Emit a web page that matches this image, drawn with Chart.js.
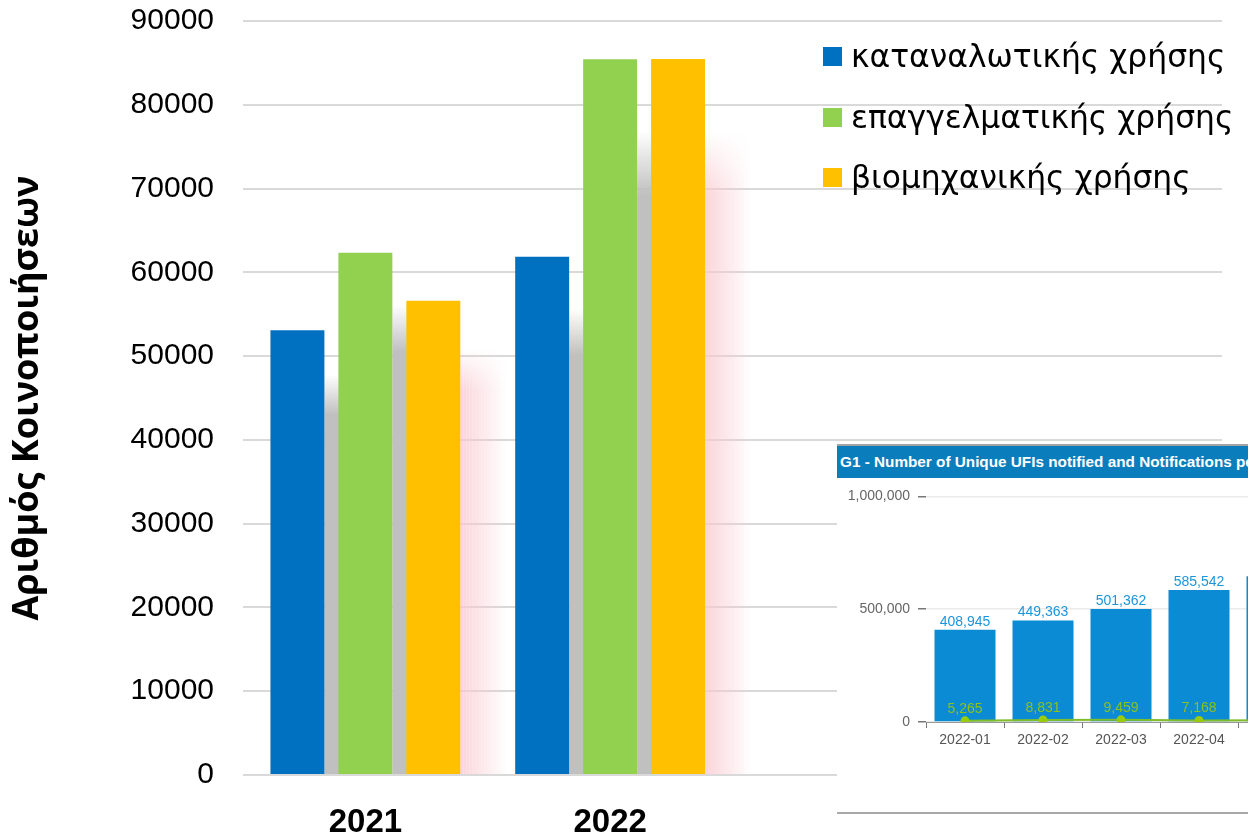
<!DOCTYPE html>
<html>
<head>
<meta charset="utf-8">
<script src="https://cdn.jsdelivr.net/npm/chart.js@4.4.1/dist/chart.umd.min.js"></script>
<style>
  html, body { margin: 0; padding: 0; background: #fff; }
  body { width: 1248px; height: 834px; overflow: hidden; position: relative; }
  #mainChart { position: absolute; left: 0; top: 0; }
  #legend { position: absolute; left: 0; top: 0; }
  .lg-box { position: absolute; left: 823px; width: 19px; height: 19px; }
  .lg-text { position: absolute; left: 851px; font-family: 'DejaVu Sans', sans-serif; font-size: 31.4px; line-height: 31px; color: #000; white-space: nowrap; }
  #inset { position: absolute; left: 837px; top: 444px; width: 411px; height: 372px; overflow: hidden; background: #fff; border-top: 2px solid #a3a3a3; box-sizing: border-box; }
  #insetHead { position: absolute; left: 0; top: 0; width: 600px; height: 32px; background: #0a7dbc; color: #fff; font-family: 'Liberation Sans', Arial, sans-serif; font-weight: bold; font-size: 15.3px; line-height: 32px; padding-left: 3px; white-space: nowrap; }
  #insetChart { position: absolute; left: 0; top: 34px; }
  #insetBottom { position: absolute; left: 0; top: 366px; width: 411px; height: 2px; background: #a8a8a8; }
</style>
</head>
<body>
<canvas id="mainChart" width="1248" height="834"></canvas>
<div id="legend"></div>
<div id="inset">
  <div id="insetHead"></div>
  <canvas id="insetChart" width="500" height="332"></canvas>
  <div id="insetBottom"></div>
</div>
<script>
const YEARS = ['2021', '2022', '', ''];
const CONSUMER = [53100, 61850, null, null];
const PROFESSIONAL = [62350, 85420, null, null];
const INDUSTRIAL = [56600, 85460, null, null];
const SERIES_LABELS = ['καταναλωτικής χρήσης', 'επαγγελματικής χρήσης', 'βιομηχανικής χρήσης'];
const SERIES_COLORS = ['#0070c0', '#92d050', '#ffc000'];
const Y_TITLE = 'Αριθμός Κοινοποιήσεων';

const INSET_TITLE = 'G1 - Number of Unique UFIs notified and Notifications per month';
const MONTHS = ['2022-01', '2022-02', '2022-03', '2022-04', '2022-05'];
const BAR_VALUES = [408945, 449363, 501362, 585542, 646000];
const LINE_VALUES = [5265, 8831, 9459, 7168, 8000];

// legend (html, transparent over the grid)
const legend = document.getElementById('legend');
SERIES_LABELS.forEach((label, i) => {
  const top = 47 + i * 60.5;
  const box = document.createElement('div');
  box.className = 'lg-box';
  box.style.top = top + 'px';
  box.style.background = SERIES_COLORS[i];
  const txt = document.createElement('div');
  txt.className = 'lg-text';
  txt.style.top = (top - 6) + 'px';
  txt.textContent = label;
  legend.appendChild(box);
  legend.appendChild(txt);
});
document.getElementById('insetHead').textContent = INSET_TITLE;

// soft shadows to the right of each bar
const barShadow = {
  id: 'barShadow',
  beforeDatasetsDraw(chart) {
    const ctx = chart.ctx;
    chart.data.datasets.forEach((ds, i) => {
      chart.getDatasetMeta(i).data.forEach((bar) => {
        const p = bar.getProps(['x', 'y', 'base', 'width'], true);
        if (!isFinite(p.y) || !isFinite(p.base)) return;
        const h = p.base - p.y;
        if (h <= 0) return;
        const right = p.x + p.width / 2;
        const t0 = p.y + 0.10 * h;
        const t1 = p.y + 0.19 * h;
        ctx.save();
        if (i < 2) {
          const g = ctx.createLinearGradient(0, t0, 0, t1);
          g.addColorStop(0, 'rgba(192,192,192,0)');
          g.addColorStop(1, 'rgba(192,192,192,1)');
          ctx.fillStyle = g;
          ctx.fillRect(right, t0, 15, p.base - t0);
        } else {
          const n = 15;
          for (let k = 0; k < n; k++) {
            const a = 0.75 * (1 - k / n);
            const g = ctx.createLinearGradient(0, t0, 0, t1);
            g.addColorStop(0, 'rgba(248,200,206,0)');
            g.addColorStop(1, 'rgba(248,200,206,' + a + ')');
            ctx.fillStyle = g;
            ctx.fillRect(right + k * 3, t0, 3, p.base - t0);
          }
        }
        ctx.restore();
      });
    });
  }
};

new Chart(document.getElementById('mainChart'), {
  type: 'bar',
  data: {
    labels: YEARS,
    datasets: [CONSUMER, PROFESSIONAL, INDUSTRIAL].map((d, i) => ({
      label: SERIES_LABELS[i],
      data: d,
      backgroundColor: SERIES_COLORS[i],
      borderWidth: 0,
      categoryPercentage: 0.833,
      barPercentage: 0.794,
    })),
  },
  options: {
    responsive: false,
    animation: false,
    layout: { padding: { top: 21, right: 26, left: 0, bottom: 0 } },
    plugins: { legend: { display: false }, tooltip: { enabled: false } },
    scales: {
      x: {
        grid: { display: false },
        border: { display: false },
        ticks: { color: '#000', padding: 20, font: { family: 'Liberation Sans', size: 33, weight: 'bold' } },
        afterFit: (s) => { s.height = 59; },
      },
      y: {
        min: 0,
        max: 90000,
        grid: { color: '#d9d9d9', lineWidth: 2, drawTicks: true, tickLength: 29, tickColor: 'rgba(0,0,0,0)' },
        border: { display: false },
        ticks: { stepSize: 10000, color: '#000', padding: 0, font: { family: 'Liberation Sans', size: 30 }, callback: (v) => String(v) },
        title: { display: true, text: Y_TITLE, color: '#000', padding: { top: 6, bottom: 0 }, font: { family: 'Open Sans', size: 36, weight: 'bold' } },
        afterFit: (s) => { s.width = 243; },
      },
    },
  },
  plugins: [barShadow],
});

// value labels for the inset chart
const valueLabels = {
  id: 'valueLabels',
  afterDatasetsDraw(chart) {
    const ctx = chart.ctx;
    ctx.save();
    ctx.font = '14px "Liberation Sans", Arial, sans-serif';
    ctx.textAlign = 'center';
    ctx.textBaseline = 'bottom';
    chart.data.datasets.forEach((ds, i) => {
      const meta = chart.getDatasetMeta(i);
      meta.data.forEach((el, j) => {
        const v = ds.data[j];
        if (v == null) return;
        ctx.fillStyle = ds.type === 'line' ? '#8cc21c' : '#1b95dc';
        const off = ds.type === 'line' ? 5 : 1;
        ctx.fillText(v.toLocaleString('en-US'), el.x, el.y - off);
      });
    });
    ctx.restore();
  }
};

new Chart(document.getElementById('insetChart'), {
  type: 'bar',
  data: {
    labels: MONTHS,
    datasets: [
      {
        type: 'line',
        data: LINE_VALUES,
        borderColor: '#7fbd2a',
        borderWidth: 2,
        pointRadius: 4.5,
        pointBackgroundColor: '#9acb0c',
        pointBorderWidth: 0,
        order: 0,
      },
      {
        type: 'bar',
        data: BAR_VALUES,
        backgroundColor: '#0a8bd3',
        categoryPercentage: 1,
        barPercentage: 0.782,
        order: 1,
      },
    ],
  },
  options: {
    responsive: false,
    animation: false,
    layout: { padding: { top: 16, right: 21, left: 0, bottom: 0 } },
    plugins: { legend: { display: false }, tooltip: { enabled: false } },
    scales: {
      x: {
        grid: { drawOnChartArea: false, tickLength: 6, color: '#777', offset: true },
        border: { display: true, color: '#999' },
        ticks: { color: '#555', padding: 4, font: { family: 'Liberation Sans', size: 14 } },
        afterFit: (s) => { s.height = 90; },
      },
      y: {
        min: 0,
        max: 1000000,
        grid: { color: '#ebebeb', lineWidth: 1.5, tickLength: 8, tickColor: '#777' },
        border: { display: false },
        ticks: { stepSize: 500000, color: '#666', padding: 8, font: { family: 'Liberation Sans', size: 14 }, callback: (v) => v.toLocaleString('en-US') },
        afterFit: (s) => { s.width = 89; },
      },
    },
  },
  plugins: [valueLabels],
});
</script>
</body>
</html>
